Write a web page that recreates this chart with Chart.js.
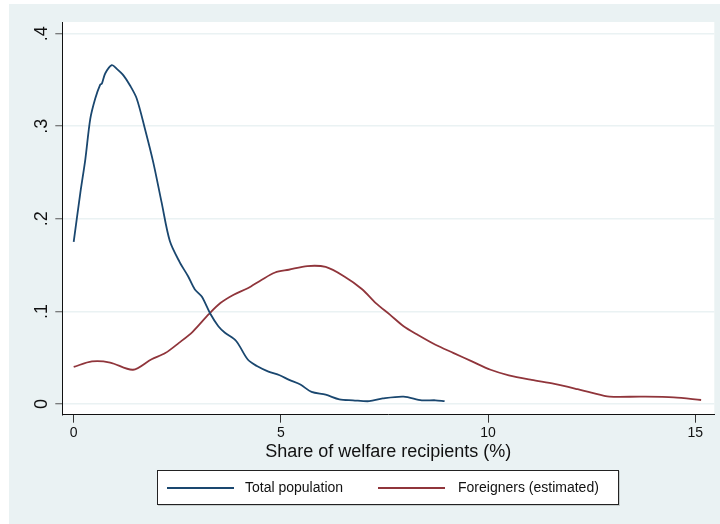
<!DOCTYPE html>
<html>
<head>
<meta charset="utf-8">
<script src="https://cdn.jsdelivr.net/npm/chart.js@4/dist/chart.umd.min.js"></script>
<style>
  body { margin: 0; background: #fff; font-family: "Liberation Sans", Arial, sans-serif; }
  #wrap { position: relative; width: 720px; height: 524px; }
  #chart { position: absolute; left: 0; top: 0; }
  #legend {
    position: absolute; left: 157px; top: 470px; width: 462px; height: 35px;
    box-sizing: border-box; border: 1px solid #222; background: #fff;
    box-shadow: 1px 1px 0 rgba(0,0,0,0.15);
  }
  #legend .line { position: absolute; top: 16px; width: 67px; height: 2px; }
  #legend .txt { position: absolute; top: 0; line-height: 33px; font-size: 14px; color: #111; white-space: nowrap; }
</style>
</head>
<body>
<div id="wrap">
  <canvas id="chart" width="720" height="524"></canvas>
  <div id="legend">
    <div class="line" style="left:9px;background:#1a476f"></div>
    <div class="txt" style="left:87px">Total population</div>
    <div class="line" style="left:220px;background:#90353b"></div>
    <div class="txt" style="left:300px">Foreigners (estimated)</div>
  </div>
</div>
<script>
// Kernel density: total population
const totalX = [0.0, 0.16, 0.28, 0.40, 0.52, 0.64, 0.68, 0.76, 0.92, 1.04, 1.20, 1.36, 1.52, 1.72, 1.92,
  2.12, 2.32, 2.56, 2.76, 2.92, 3.09, 3.29, 3.49, 3.65, 3.92, 4.20, 4.42, 4.70, 4.97, 5.20, 5.47,
  5.74, 6.08, 6.41, 6.74, 7.13, 7.46, 7.96, 8.40, 8.73, 8.95];
const totalY = [0.175, 0.228, 0.264, 0.308, 0.330, 0.345, 0.346, 0.357, 0.366, 0.362, 0.355, 0.344, 0.330, 0.297, 0.261,
  0.218, 0.176, 0.153, 0.138, 0.124, 0.116, 0.098, 0.084, 0.077, 0.068, 0.048, 0.041, 0.035, 0.031, 0.026, 0.021,
  0.013, 0.010, 0.005, 0.004, 0.003, 0.006, 0.008, 0.004, 0.004, 0.003];

// Kernel density: foreigners (estimated)
const foreignX = [0.0, 0.44, 0.88, 1.43, 1.88, 2.21, 2.54, 2.87, 3.26, 3.54, 3.86, 4.20, 4.53, 4.86, 5.19,
  5.64, 6.08, 6.52, 6.96, 7.29, 7.63, 7.96, 8.29, 8.73, 9.17, 9.61, 10.06, 10.50, 11.05, 11.60,
  12.16, 12.49, 12.93, 13.70, 14.48, 15.14];
const foreignY = [0.040, 0.046, 0.0448, 0.037, 0.0484, 0.055, 0.066, 0.078, 0.097, 0.109, 0.118, 0.125, 0.134, 0.142, 0.145,
  0.149, 0.148, 0.138, 0.124, 0.109, 0.0965, 0.084, 0.075, 0.064, 0.055, 0.046, 0.037, 0.031, 0.026, 0.0217,
  0.016, 0.0123, 0.008, 0.008, 0.0072, 0.0043];

const xTicks = [0, 5, 10, 15];
const yTicks = [0, 0.1, 0.2, 0.3, 0.4];
const yTickLabels = ['0', '.1', '.2', '.3', '.4'];

function toPoints(xs, ys) {
  return xs.map((x, i) => ({ x: x, y: ys[i] }));
}

// Stata-like background: grey-blue frame, white plot region
const backgroundPlugin = {
  id: 'stataBackground',
  beforeDraw(chart) {
    const ctx = chart.ctx;
    const area = chart.chartArea;
    ctx.save();
    ctx.fillStyle = '#fff';
    ctx.fillRect(0, 0, chart.width, chart.height);
    ctx.fillStyle = '#eaf2f3';
    ctx.fillRect(9, 4, chart.width - 9, chart.height - 4);
    ctx.fillStyle = '#fff';
    ctx.fillRect(area.left, area.top, area.right - area.left, area.bottom - area.top);
    ctx.restore();
  }
};

const ctx = document.getElementById('chart').getContext('2d');

new Chart(ctx, {
  type: 'line',
  data: {
    datasets: [
      {
        label: 'Total population',
        data: toPoints(totalX, totalY),
        borderColor: '#1a476f',
        borderWidth: 1.8,
        pointRadius: 0,
        tension: 0.3
      },
      {
        label: 'Foreigners (estimated)',
        data: toPoints(foreignX, foreignY),
        borderColor: '#90353b',
        borderWidth: 1.8,
        pointRadius: 0,
        tension: 0.3
      }
    ]
  },
  options: {
    responsive: false,
    animation: false,
    layout: { padding: { left: 0, top: 22, right: 5.7, bottom: 0 } },
    plugins: {
      legend: { display: false },
      tooltip: { enabled: false }
    },
    scales: {
      x: {
        type: 'linear',
        min: -0.275,
        max: 15.458,
        afterBuildTicks: (scale) => { scale.ticks = xTicks.map(v => ({ value: v })); },
        afterFit: (scale) => { scale.height = 109.3; },
        grid: { drawOnChartArea: false, drawTicks: true, tickLength: 8, tickColor: '#333', tickWidth: 1 },
        border: { display: true, color: '#111', width: 1 },
        ticks: {
          maxRotation: 0,
          padding: 2,
          color: '#111',
          font: { family: '"Liberation Sans", Arial, sans-serif', size: 14 }
        },
        title: {
          display: true,
          text: 'Share of welfare recipients (%)',
          color: '#111',
          font: { family: '"Liberation Sans", Arial, sans-serif', size: 18 },
          padding: { top: 0, bottom: 61 }
        }
      },
      y: {
        type: 'linear',
        min: -0.01157,
        max: 0.4126,
        afterBuildTicks: (scale) => { scale.ticks = yTicks.map(v => ({ value: v })); },
        afterFit: (scale) => { scale.width = 62.3; },
        grid: { color: '#eaf2f3', lineWidth: 1.5, tickLength: 7, tickColor: '#555', tickWidth: 1 },
        border: { display: true, color: '#111', width: 1 },
        ticks: {
          minRotation: 90,
          maxRotation: 90,
          crossAlign: 'center',
          padding: 6,
          color: '#111',
          font: { family: '"Liberation Sans", Arial, sans-serif', size: 18 },
          callback: (value) => {
            const i = yTicks.findIndex(t => Math.abs(t - value) < 1e-9);
            return i >= 0 ? yTickLabels[i] : '';
          }
        }
      }
    }
  },
  plugins: [backgroundPlugin]
});
</script>
</body>
</html>
